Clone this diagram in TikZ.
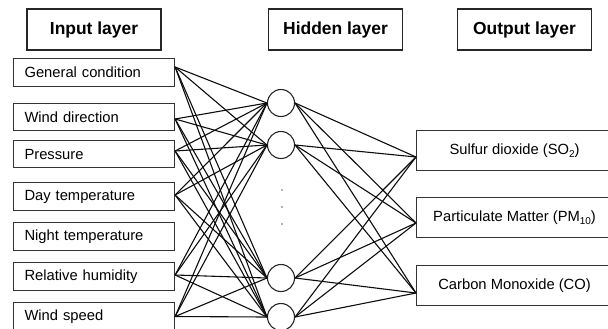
\documentclass[tikz,border=0pt]{standalone}
\usepackage{fontspec}
\setmainfont{Liberation Sans}
\newcommand{\lowsub}[1]{\raisebox{-0.35ex}{\fontsize{10}{12}\selectfont #1}}
\begin{document}
\begin{tikzpicture}[x=1bp,y=-1bp,
  header/.style={draw=black!85, line width=1.1bp, minimum width=134bp, minimum height=41bp, inner sep=0pt, font=\fontsize{17.5}{20}\selectfont\bfseries},
  inbox/.style={draw=black!80, line width=1.1bp, anchor=west, minimum height=27.5bp, text width=139bp, inner xsep=11bp, inner ysep=0pt, align=left, font=\fontsize{14.8}{17}\selectfont},
  outbox/.style={draw=black!80, line width=1.1bp, anchor=west, minimum width=196bp, minimum height=40bp, inner sep=0pt, font=\fontsize{14.8}{17}\selectfont},
  neuron/.style={draw=black!85, line width=1.1bp, circle, minimum size=27bp, inner sep=0pt},
  link/.style={draw=black!95, line width=1.1bp}
]
\useasboundingbox (0,0) rectangle (608,328);

% headers
\node[header] (hin) at (94,29.5) {Input layer};
\node[header] (hhid) at (335.5,29.5) {Hidden layer};
\node[header] (hout) at (524.5,29.5) {Output layer};

% input boxes
\node[inbox] (gc) at (13,72.5) {General condition};
\node[inbox] (wd) at (13,117) {Wind direction};
\node[inbox] (pr) at (13,154) {Pressure};
\node[inbox] (dt) at (13,196.5) {Day temperature};
\node[inbox] (nt) at (13,236.5) {Night temperature};
\node[inbox] (rh) at (13,276.5) {Relative humidity};
\node[inbox] (ws) at (13,316.5) {Wind speed};

% hidden neurons
\node[neuron] (h1) at (281,103) {};
\node[neuron] (h2) at (281,145) {};
\node[neuron] (h3) at (281,278) {};
\node[neuron] (h4) at (281,317) {};
\fill[black!60] (282,190) circle (0.8bp) (282,207) circle (0.8bp) (282,224) circle (0.8bp);

% output boxes
\node[outbox] (so) at (416,150.5) {Sulfur dioxide (SO\lowsub{2})};
\node[outbox] (pm) at (416,217.5) {Particulate Matter (PM\lowsub{10})};
\node[outbox] (co) at (416,285.5) {Carbon Monoxide (CO)};

% connection points
\coordinate (i1) at ([yshift=5.5bp]gc.east);
\coordinate (i2) at ([yshift=-2bp]wd.east);
\coordinate (i3) at ([yshift=3bp]pr.east);
\coordinate (i4) at ([yshift=1.5bp]dt.east);
\coordinate (i5) at ([yshift=1.5bp]rh.east);
\coordinate (i6) at (ws.east);
\coordinate (o1) at ([yshift=-6.5bp]so.west);
\coordinate (o2) at ([yshift=-5.5bp]pm.west);
\coordinate (o3) at ([yshift=-7.5bp]co.west);

\foreach \i in {i1,i2,i3,i4,i5,i6}
  \foreach \h in {h1,h2,h3,h4}
    \draw[link] (\i) -- (\h.west);
\foreach \h in {h1,h2,h3,h4}
  \foreach \o in {o1,o2,o3}
    \draw[link] (\h.east) -- (\o);
\end{tikzpicture}
\end{document}
